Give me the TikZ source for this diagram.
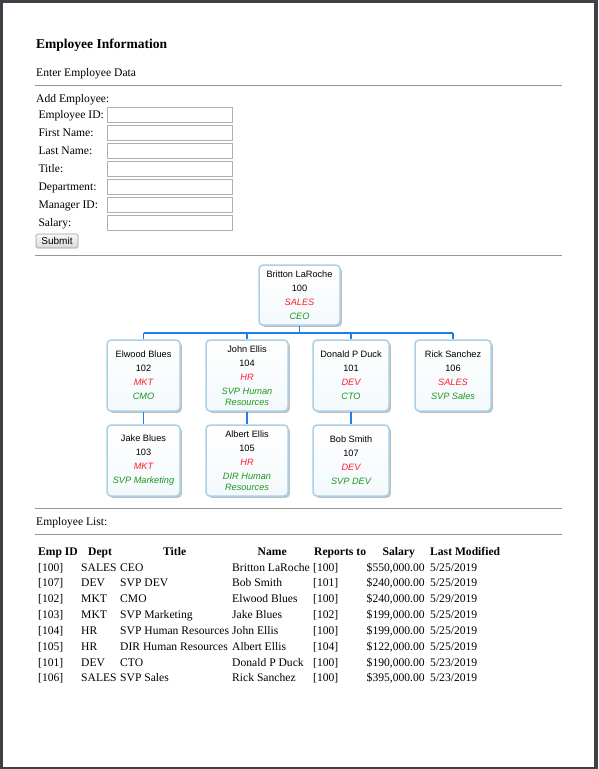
\documentclass[tikz,border=0pt]{standalone}
\usepackage{fontspec}
\setmainfont{Liberation Serif}
\newfontfamily\arialf{Liberation Sans}
\usetikzlibrary{shadows}
\definecolor{framegray}{RGB}{62,65,69}
\definecolor{hrgray}{RGB}{150,150,150}
\definecolor{boxblue}{RGB}{170,208,232}
\definecolor{lineblue}{RGB}{30,125,235}
\definecolor{deptred}{RGB}{255,30,50}
\definecolor{titlegreen}{RGB}{30,150,30}
\definecolor{inputgray}{RGB}{175,175,175}
\definecolor{boxbottom}{RGB}{243,249,252}
\newcommand{\dep}[1]{\textcolor{deptred}{\itshape #1}}
\newcommand{\ttl}[1]{\textcolor{titlegreen}{\itshape #1}}
\begin{document}
\begin{tikzpicture}[x=1pt,y=-1pt,
  txt/.style={inner sep=0pt,anchor=base west,font=\fontsize{11.6}{14}\selectfont},
  hdr/.style={inner sep=0pt,anchor=base west,font=\fontsize{11.6}{14}\selectfont\bfseries},
  hrule/.style={draw=hrgray,line width=1pt},
  inbox/.style={draw=inputgray,line width=0.8pt,fill=white,minimum width=125pt,minimum height=15pt,inner sep=0pt},
  btn/.style={draw=gray!80,line width=0.6pt,rounded corners=1.5pt,top color=gray!5,bottom color=gray!30,minimum width=42pt,minimum height=14pt,inner sep=0pt,font=\arialf\fontsize{10}{12}\selectfont},
  orgbox/.style={draw=boxblue,line width=1.5pt,rounded corners=4pt,top color=white,bottom color=boxbottom,
    drop shadow={shadow xshift=1.8pt,shadow yshift=-1.8pt,opacity=0.5},
    align=center,inner sep=0pt,font=\arialf\fontsize{9.2}{14}\selectfont},
  conn/.style={draw=lineblue,line width=1.2pt}
]
% page frame
\fill[framegray] (0,0) rectangle (598,769);
\fill[white] (3,3) rectangle (594,767);
\useasboundingbox (0,0) rectangle (598,769);

% header
\node[inner sep=0pt,anchor=base west,font=\fontsize{13.5}{16}\selectfont\bfseries] (title) at (36,48.5) {Employee Information};
\node[txt] (enter) at (36,76) {Enter Employee Data};
\draw[hrule] (35,85) -- (562,85);

% form
\node[txt] (add) at (36,102) {Add Employee:};
\foreach \lab [count=\k from 0] in {Employee ID:,First Name:,Last Name:,Title:,Department:,Manager ID:,Salary:}{
  \node[txt] (lab\k) at (38.3,118+18*\k) {\lab};
  \node[inbox] (in\k) at (169.5,114.5+18*\k) {};
}
\node[btn] (submit) at (57,241) {Submit};
\draw[hrule] (35,255) -- (562,255);

% connectors (behind the boxes)
\coordinate (bus) at (299.5,333);
\coordinate (busL) at (143.5,333);
\coordinate (busR) at (453,333);

% org chart
\node[orgbox,minimum width=81pt,minimum height=60pt] (root) at (299.5,295)
  {Britton LaRoche\\100\\\dep{SALES}\\\ttl{CEO}};
\node[orgbox,minimum width=73pt,minimum height=71pt] (elwood) at (143.5,375.5)
  {Elwood Blues\\102\\\dep{MKT}\\\ttl{CMO}};
\node[orgbox,minimum width=82pt,minimum height=71pt] (john) at (247,375.5)
  {John Ellis\\104\\\dep{HR}\\\ttl{SVP Human}\\[-3pt]\ttl{Resources}};
\node[orgbox,minimum width=76pt,minimum height=71pt] (donald) at (351,375.5)
  {Donald P Duck\\101\\\dep{DEV}\\\ttl{CTO}};
\node[orgbox,minimum width=76pt,minimum height=71pt] (rick) at (453,375.5)
  {Rick Sanchez\\106\\\dep{SALES}\\\ttl{SVP Sales}};
\node[orgbox,minimum width=73pt,minimum height=71pt] (jake) at (143.5,460.5)
  {Jake Blues\\103\\\dep{MKT}\\\ttl{SVP Marketing}};
\node[orgbox,minimum width=82pt,minimum height=71pt] (albert) at (247,460.5)
  {Albert Ellis\\105\\\dep{HR}\\\ttl{DIR Human}\\[-3pt]\ttl{Resources}};
\node[orgbox,minimum width=76pt,minimum height=71pt] (bob) at (351,460.5)
  {Bob Smith\\107\\\dep{DEV}\\\ttl{SVP DEV}};

\draw[conn] (root.south) -- (bus);
\draw[conn] (busL) -- (busR);
\foreach \n in {elwood,john,donald,rick}{
  \draw[conn] (\n.north |- bus) -- (\n.north);
}
\draw[conn] (elwood.south) -- (jake.north);
\draw[conn] (john.south) -- (albert.north);
\draw[conn] (donald.south) -- (bob.north);

% list
\draw[hrule] (35,508) -- (562,508);
\node[txt] (listlab) at (36,525) {Employee List:};
\draw[hrule] (35,534) -- (562,534);

\node[hdr] (h1) at (38,555) {Emp ID};
\node[hdr] (h2) at (88,555) {Dept};
\node[hdr] (h3) at (163,555) {Title};
\node[hdr] (h4) at (257.5,555) {Name};
\node[hdr] (h5) at (314,555) {Reports to};
\node[hdr] (h6) at (382.5,555) {Salary};
\node[hdr] (h7) at (430,555) {Last Modified};

\foreach \a/\b/\c/\d/\e/\f/\g [count=\r from 0] in {
  [100]/SALES/CEO/Britton LaRoche/[100]/\$550{,}000.00/5\slash 25\slash 2019,
  [107]/DEV/SVP DEV/Bob Smith/[101]/\$240{,}000.00/5\slash 25\slash 2019,
  [102]/MKT/CMO/Elwood Blues/[100]/\$240{,}000.00/5\slash 29\slash 2019,
  [103]/MKT/SVP Marketing/Jake Blues/[102]/\$199{,}000.00/5\slash 25\slash 2019,
  [104]/HR/SVP Human Resources/John Ellis/[100]/\$199{,}000.00/5\slash 25\slash 2019,
  [105]/HR/DIR Human Resources/Albert Ellis/[104]/\$122{,}000.00/5\slash 25\slash 2019,
  [101]/DEV/CTO/Donald P Duck/[100]/\$190{,}000.00/5\slash 23\slash 2019,
  [106]/SALES/SVP Sales/Rick Sanchez/[100]/\$395{,}000.00/5\slash 23\slash 2019}{
  \node[txt] (r\r c1) at (38,571+15.85*\r) {\a};
  \node[txt] (r\r c2) at (81,571+15.85*\r) {\b};
  \node[txt] (r\r c3) at (120,571+15.85*\r) {\c};
  \node[txt] (r\r c4) at (232,571+15.85*\r) {\d};
  \node[txt] (r\r c5) at (313,571+15.85*\r) {\e};
  \node[txt] (r\r c6) at (366.5,571+15.85*\r) {\f};
  \node[txt] (r\r c7) at (430,571+15.85*\r) {\g};
}
\end{tikzpicture}
\end{document}
